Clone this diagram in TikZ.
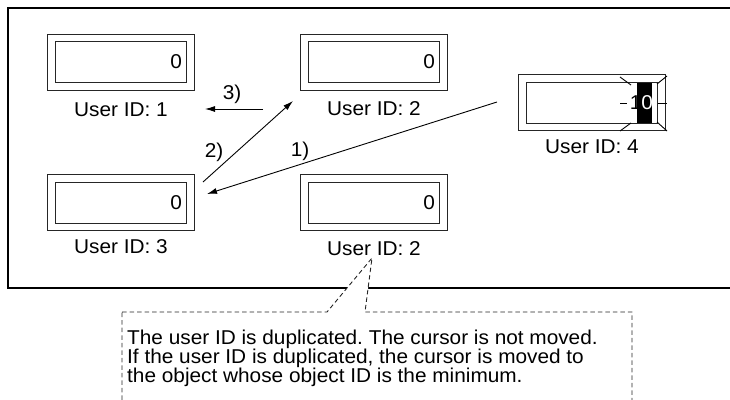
\documentclass[tikz,border=0pt]{standalone}
\usepackage{fontspec}
\setmainfont{Liberation Sans}[FakeStretch=1.04]
\usetikzlibrary{arrows.meta, positioning}

\tikzset{
    userbox/.style={draw=black!85, line width=1pt,
        minimum width=131pt, minimum height=41pt, inner sep=0pt,
        text width=122pt, align=right},
    idlabel/.style={inner sep=0pt},
    steplabel/.style={inner sep=0pt},
    notebox/.style={draw=black!85, fill=white, line width=0.9pt,
        dash pattern=on 4.5pt off 3pt},
    cursortick/.style={line width=0.9pt}
}

\begin{document}
\frenchspacing
\begin{tikzpicture}[x=1pt, y=-1pt, >={Latex[length=10pt, width=6pt]},
    font=\fontsize{20}{19}\selectfont]
    \useasboundingbox (0,0) rectangle (730,399);

    % 1. Outer frame, open to the right
    \draw[line width=1.3pt] (730,8) -- (8,8) -- (8,288) -- (730,288);

    % 2. Note with its pointer
    \coordinate (tip) at (372,258);
    \draw[notebox] (122,312) -- (327,312) -- (tip) -- (365,312) -- (632,312)
        -- (632,410) -- (122,410) -- cycle;
    \node[inner sep=0pt, anchor=north west, align=left] (note) at (127,330)
        {The user ID is duplicated. The cursor is not moved.\\
         If the user ID is duplicated, the cursor is moved to\\
         the object whose object ID is the minimum.};

    % 3. Entry boxes with their user IDs
    \fill (637,83) rectangle (652,123);
    \node[userbox] (box1) at (121,62) {0};
    \node[userbox] (box2) at (374,62) {0};
    \node[userbox] (box3) at (121,202.5) {0};
    \node[userbox] (box4) at (374,202.5) {0};
    \node[userbox] (box5) at (592,102.5) {1\textcolor{white}{0}};
    \foreach \b in {box1,box2,box3,box4,box5}
        \draw[black!85, line width=1pt] ([shift={(-7.5pt,-7pt)}]\b.south west)
            rectangle ([shift={(7.5pt,7pt)}]\b.north east);
    \node[idlabel] (id1) at ([yshift=-27pt]box1.south) {User ID: 1};
    \node[idlabel] (id2) at ([yshift=-26pt]box2.south) {User ID: 2};
    \node[idlabel] (id3) at ([yshift=-23pt]box3.south) {User ID: 3};
    \node[idlabel] (id4) at ([yshift=-25pt]box4.south) {User ID: 2};
    \node[idlabel] (id5) at ([yshift=-23pt]box5.south) {User ID: 4};

    % 4. Cursor marks round the digit
    \draw[cursortick] (620,77) -- (631,85);
    \draw[cursortick] (620,131) -- (631,123);
    \draw[cursortick] (667,76) -- (657,84);
    \draw[cursortick] (667,131) -- (657,122);
    \draw[cursortick] (620,103) -- (627,103);
    \draw[cursortick] (658,103) -- (667,103);

    % 5. Cursor moves
    \coordinate (a1s) at (497,102);
    \coordinate (a1e) at (207,194);
    \coordinate (a2s) at (203,182);
    \coordinate (a2e) at (293,101);
    \coordinate (a3s) at (263,109);
    \coordinate (a3e) at (205,109);
    \draw[->, line width=0.9pt] (a1s) -- (a1e);
    \draw[->, line width=0.9pt] (a2s) -- (a2e);
    \draw[->, line width=0.9pt] (a3s) -- (a3e);
    \node[steplabel] (s1) at (300,151) {1)};
    \node[steplabel] (s2) at (214,152) {2)};
    \node[steplabel] (s3) at (232,94) {3)};
\end{tikzpicture}
\end{document}
